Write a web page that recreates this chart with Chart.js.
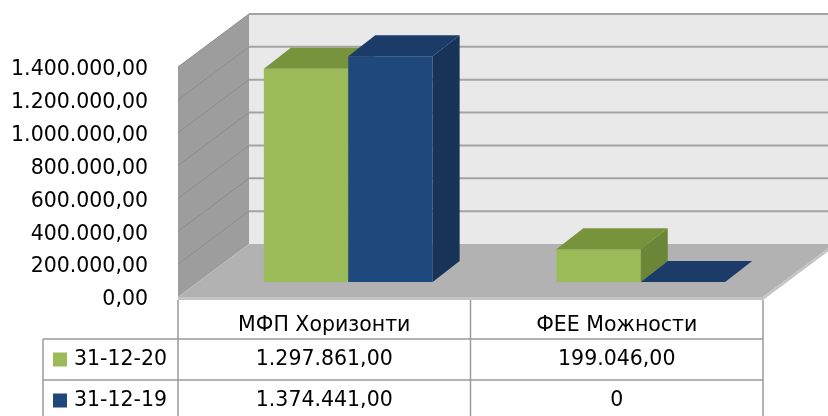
<!DOCTYPE html>
<html>
<head>
<meta charset="utf-8">
<script src="https://cdn.jsdelivr.net/npm/chart.js@4.4.1/dist/chart.umd.min.js"></script>
<style>
  body { margin: 0; background: #fff; }
  canvas { display: block; }
</style>
</head>
<body>
<canvas id="graph1" width="828" height="416"></canvas>
<script>
// data
const categories = ['МФП Хоризонти', 'ФЕЕ Можности'];
const seriesNames = ['31-12-20', '31-12-19'];
const values2020 = [1297861, 199046];
const values2019 = [1374441, 0];
const yTickValues = [0, 200000, 400000, 600000, 800000, 1000000, 1200000, 1400000];

const FONT = { family: '"DejaVu Sans", sans-serif', size: 20.5 };
const faceColors = [
  { front: '#9bbb59', top: '#77933c', side: '#6a8636' },
  { front: '#1f497d', top: '#1b3c69', side: '#173358' }
];
// offsets of the fake 3d scene (pixels)
const wall = { dx: 71, dy: -53 };   // front plane -> back wall
const plane = { dx: 24, dy: -15 };  // front plane -> front face of the bars
const depth = { dx: 27, dy: -21 };  // thickness of a bar

const fmt = v => {
  const p = v.toFixed(2).split('.');
  return p[0].replace(/\B(?=(\d{3})+(?!\d))/g, '.') + ',' + p[1];
};
const cellText = v => v === 0 ? '0' : fmt(v);

const poly = (ctx, pts, fill) => {
  ctx.beginPath();
  pts.forEach(([x, y], i) => i ? ctx.lineTo(x, y) : ctx.moveTo(x, y));
  ctx.closePath();
  ctx.fillStyle = fill;
  ctx.fill();
};

const scene = {
  id: 'scene',
  beforeDraw(chart) {
    const { ctx, chartArea: a, scales: { y } } = chart;
    const W = chart.width;
    const bx = a.left + wall.dx;
    ctx.save();
    // back wall
    ctx.fillStyle = '#e9e9e9';
    ctx.fillRect(bx, a.top + wall.dy, W - bx, a.bottom - a.top);
    // left wall
    poly(ctx, [[a.left, a.top], [bx, a.top + wall.dy], [bx, a.bottom + wall.dy], [a.left, a.bottom]], '#9d9d9d');
    // floor
    poly(ctx, [[a.left, a.bottom], [bx, a.bottom + wall.dy], [a.right + wall.dx, a.bottom + wall.dy], [a.right, a.bottom]], '#b2b2b2');
    poly(ctx, [[a.left, a.bottom], [a.right, a.bottom], [a.right + wall.dx, a.bottom + wall.dy],
      [a.right + wall.dx, a.bottom + wall.dy + 3], [a.right, a.bottom + 3], [a.left, a.bottom + 3]], '#c4c4c4');
    // gridlines
    yTickValues.forEach(v => {
      if (v === 0) return;
      const py = y.getPixelForValue(v);
      ctx.strokeStyle = '#a3a3a3';
      ctx.lineWidth = 2;
      ctx.beginPath();
      ctx.moveTo(bx, py + wall.dy);
      ctx.lineTo(W, py + wall.dy);
      ctx.stroke();
      ctx.strokeStyle = '#8c8c8c';
      ctx.lineWidth = 1;
      ctx.beginPath();
      ctx.moveTo(a.left, py);
      ctx.lineTo(bx, py + wall.dy);
      ctx.stroke();
    });
    ctx.restore();
  },
  // the library would paint the right-hand series first; paint left to right instead
  beforeDatasetDraw() {
    return false;
  },
  afterDatasetsDraw(chart) {
    const ctx = chart.ctx;
    ctx.save();
    ctx.translate(plane.dx, plane.dy);
    chart.data.datasets.forEach((ds, i) => {
      const meta = chart.getDatasetMeta(i);
      const c = faceColors[i];
      meta.controller.draw();
      meta.data.forEach(el => {
        const { x, y, base, width } = el.getProps(['x', 'y', 'base', 'width'], true);
        const l = x - width / 2, r = x + width / 2;
        poly(ctx, [[l, y], [l + depth.dx, y + depth.dy], [r + depth.dx, y + depth.dy], [r, y]], c.top);
        if (base - y > 0.5) {
          poly(ctx, [[r, y], [r + depth.dx, y + depth.dy], [r + depth.dx, base + depth.dy], [r, base]], c.side);
        }
      });
    });
    ctx.restore();
  },
  afterDraw(chart) {
    // data table under the plot
    const { ctx, chartArea: a, scales: { x } } = chart;
    const H = chart.height;
    const rows = [a.bottom + 42, a.bottom + 83, a.bottom + 124];
    const keyLeft = 43;
    const colW = (a.right - a.left) / categories.length;
    ctx.save();
    ctx.strokeStyle = '#9a9a9a';
    ctx.lineWidth = 1.5;
    ctx.beginPath();
    for (let i = 0; i <= categories.length; i++) {
      ctx.moveTo(a.left + i * colW, a.bottom + 3);
      ctx.lineTo(a.left + i * colW, H);
    }
    ctx.moveTo(keyLeft, rows[0]);
    ctx.lineTo(keyLeft, H);
    ctx.moveTo(keyLeft, rows[0]);
    ctx.lineTo(a.right, rows[0]);
    ctx.moveTo(keyLeft, rows[1]);
    ctx.lineTo(a.right, rows[1]);
    ctx.stroke();

    ctx.font = FONT.size + 'px ' + FONT.family;
    ctx.textBaseline = 'middle';
    chart.data.datasets.forEach((ds, i) => {
      const cy = (rows[i] + rows[i + 1]) / 2;
      ctx.fillStyle = faceColors[i].front;
      ctx.fillRect(53, cy - 7, 14, 14);
      ctx.fillStyle = '#000';
      ctx.textAlign = 'left';
      ctx.fillText(ds.label, 74, cy);
      ctx.textAlign = 'center';
      ds.data.forEach((v, j) => ctx.fillText(cellText(v), x.getPixelForValue(j), cy));
    });
    ctx.restore();
  }
};

const data = {
  labels: categories,
  datasets: [
    { label: seriesNames[0], data: values2020, backgroundColor: faceColors[0].front },
    { label: seriesNames[1], data: values2019, backgroundColor: faceColors[1].front }
  ]
};

const options = {
  responsive: false,
  animation: false,
  layout: { padding: { top: 67, right: 65, left: 0, bottom: 0 } },
  datasets: { bar: { barPercentage: 1, categoryPercentage: 0.577, borderWidth: 0, clip: false } },
  plugins: { legend: { display: false }, tooltip: { enabled: false } },
  scales: {
    x: {
      afterFit: s => { s.height = 119; },
      ticks: { padding: 8, color: '#000', font: FONT },
      grid: { display: false },
      border: { display: false }
    },
    y: {
      min: 0,
      max: yTickValues[yTickValues.length - 1],
      afterFit: s => { s.width = 178; },
      afterBuildTicks: s => { s.ticks = yTickValues.map(v => ({ value: v })); },
      ticks: { padding: 22, labelOffset: 3, color: '#000', font: FONT, callback: v => fmt(v) },
      grid: { display: false },
      border: { display: false }
    }
  }
};

const chart = new Chart(document.getElementById('graph1').getContext('2d'), {
  type: 'bar',
  data: data,
  options: options,
  plugins: [scene]
});
</script>
</body>
</html>
